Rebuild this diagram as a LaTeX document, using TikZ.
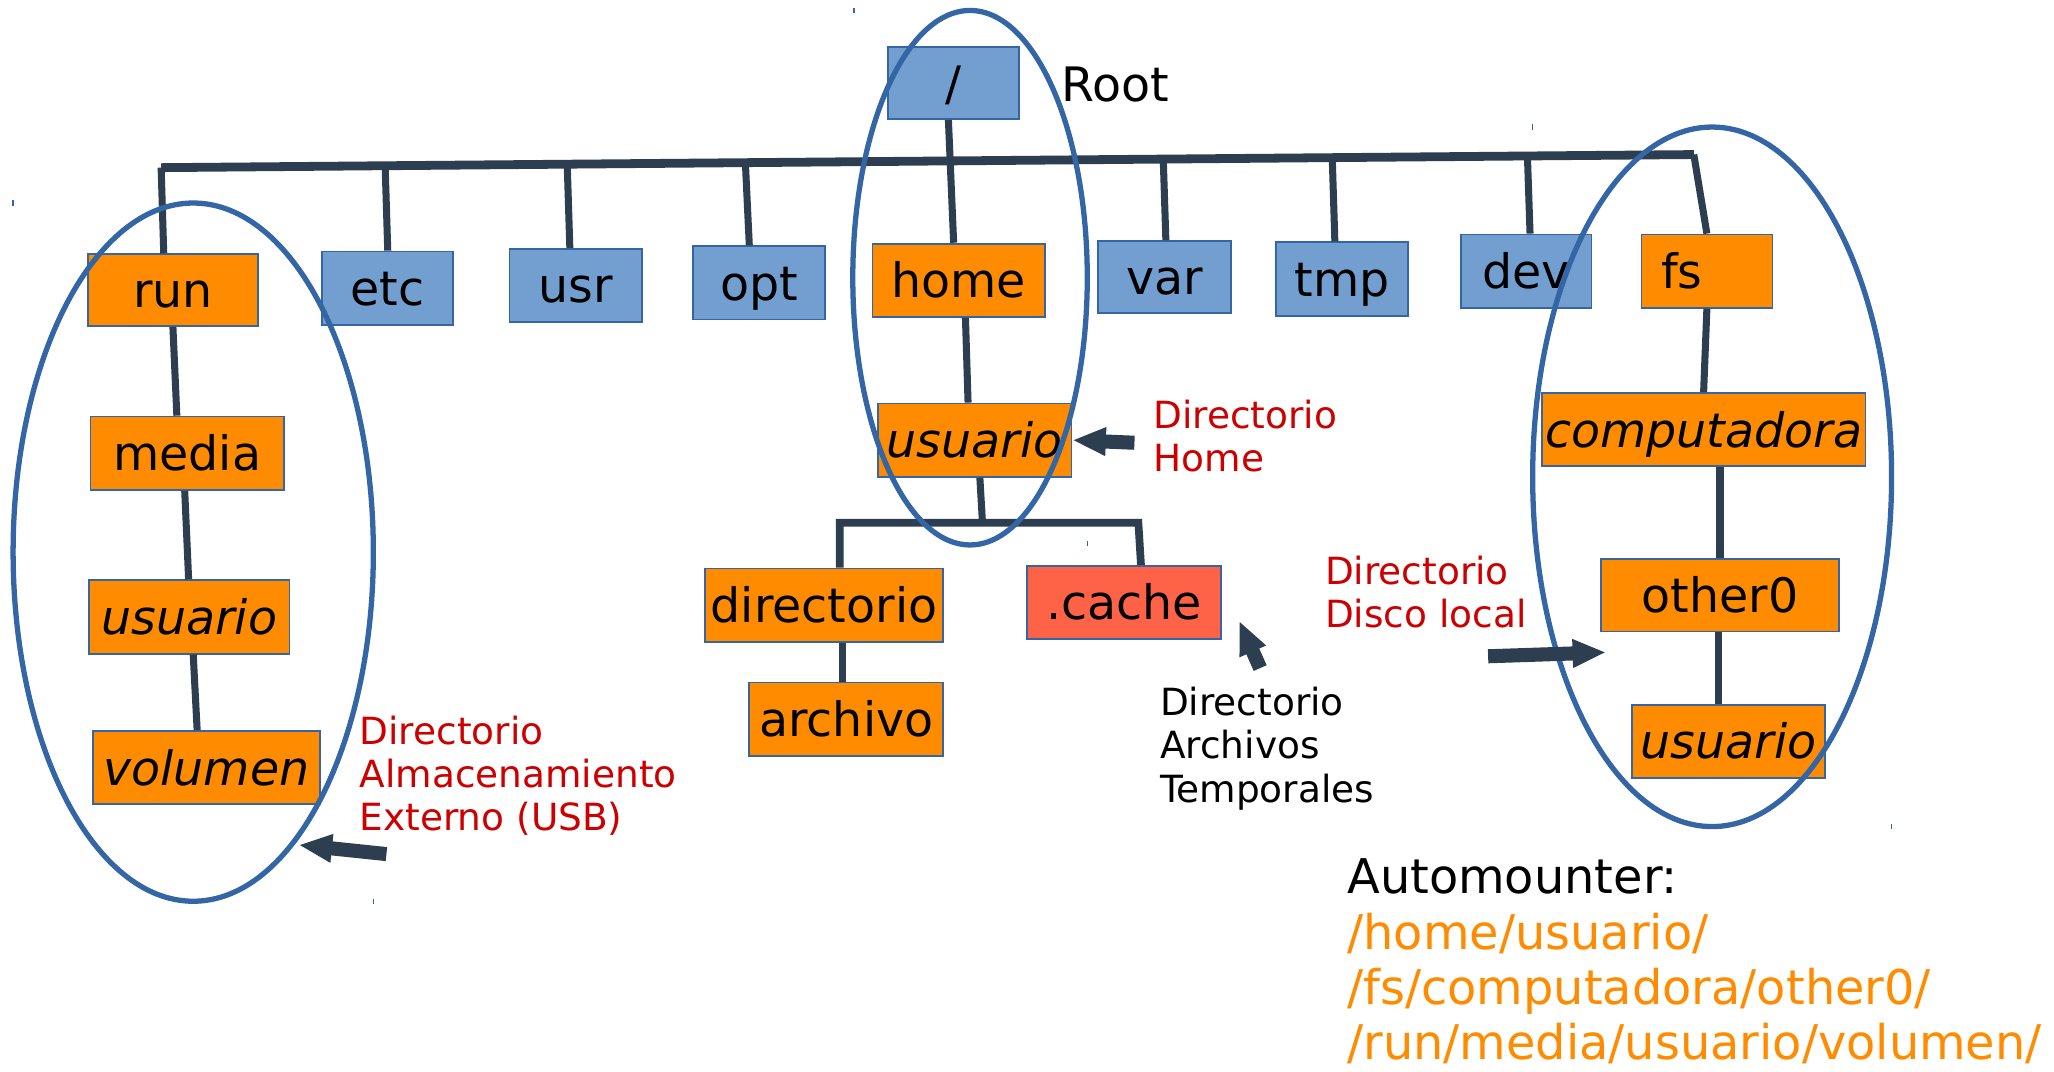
\documentclass[tikz,border=0pt]{standalone}
\usepackage{fontspec}
\setmainfont{DejaVu Sans}
\usetikzlibrary{arrows.meta}
\newlength\pxu
\setlength\pxu{0.013099cm}
\definecolor{boxblue}{HTML}{729FCF}
\definecolor{edgeblue}{HTML}{3465A4}
\definecolor{boxorange}{HTML}{FF8C00}
\definecolor{boxred}{HTML}{FF6347}
\definecolor{linedark}{HTML}{2C3E50}
\definecolor{labelred}{HTML}{CC0000}
\definecolor{textorange}{HTML}{FF8C00}
\tikzset{
  dirbox/.style={draw=edgeblue, line width=0.5pt, inner sep=0pt, minimum height=56\pxu,
    font=\fontsize{13.5}{16}\selectfont, text height=9.9pt, text depth=0pt},
  bluebox/.style={dirbox, fill=boxblue},
  orangebox/.style={dirbox, fill=boxorange},
  redbox/.style={dirbox, fill=boxred},
  tline/.style={draw=linedark, line width=2pt},
  tbar/.style={draw=linedark, line width=2.5pt},
  ring/.style={draw=edgeblue, line width=1.5pt},
  tick/.style={draw=edgeblue, line width=0.4pt},
  barrow/.style={draw=linedark, line width=4pt, -{Triangle[length=9.5pt,width=7.5pt]}},
  lbl/.style={anchor=north west, align=left, inner sep=0pt, font=\fontsize{10.65}{12.3}\selectfont},
  redlbl/.style={lbl, text=labelred},
}
\begin{document}
\begin{tikzpicture}[x=0.013099cm, y=-0.013099cm]
\fill[white] (0,0) rectangle (1568,818);
\useasboundingbox (0,0) rectangle (1568,818);

% top level
\node[bluebox, minimum width=100\pxu, minimum height=55\pxu] (root) at (728,63.5) {/};
\node[anchor=west, inner sep=0pt, font=\fontsize{13.5}{16}\selectfont, text height=9.9pt, text depth=0pt] (rootlbl) at (810,64) {Root};

\node[orangebox, minimum width=130\pxu, minimum height=55\pxu] (run) at (132,221.5) {run};
\node[bluebox, minimum width=100\pxu] (etc) at (296,220) {etc};
\node[bluebox, minimum width=101\pxu] (usr) at (439.5,218) {usr};
\node[bluebox, minimum width=101\pxu] (opt) at (579.5,216) {opt};
\node[orangebox, minimum width=132\pxu] (home) at (732,214) {home};
\node[bluebox, minimum width=102\pxu, minimum height=55\pxu] (var) at (889,211.5) {var};
\node[bluebox, minimum width=101\pxu] (tmp) at (1024.5,213) {tmp};
\node[bluebox, minimum width=100\pxu] (dev) at (1165,207) {dev};
\node[orangebox, minimum width=100\pxu] (fs) at (1303,207) {\makebox[70\pxu][l]{fs}};

% left column
\node[orangebox, minimum width=148\pxu] (media) at (143,346) {media};
\node[orangebox, minimum width=153\pxu] (usuL) at (144.5,471) {\itshape usuario};
\node[orangebox, minimum width=173\pxu] (vol) at (157.5,586) {\itshape volumen};

% middle column
\node[orangebox, minimum width=148\pxu] (usuM) at (744,336) {\itshape usuario};
\node[orangebox, minimum width=182\pxu] (dir) at (629,462) {directorio};
\node[orangebox, minimum width=148\pxu] (arch) at (646,549) {archivo};
\node[redbox, minimum width=148\pxu] (cache) at (858,460) {.cache};

% right column
\node[orangebox, minimum width=247\pxu] (comp) at (1300.5,328) {\itshape computadora};
\node[orangebox, minimum width=182\pxu, minimum height=55\pxu] (oth) at (1313,454.5) {other0};
\node[orangebox, minimum width=147\pxu] (usuR) at (1319.5,566) {\itshape usuario};

% main bar
\coordinate (barL) at (123,128);
\coordinate (barR) at (1293,118);
\coordinate (b-etc) at (294,126.5);
\coordinate (b-usr) at (433,125.4);
\coordinate (b-opt) at (569,124.2);
\coordinate (b-var) at (888,121.5);
\coordinate (b-tmp) at (1017,120.4);
\coordinate (b-dev) at (1166,119.1);
\draw[tbar] (barL) -- (barR);
\draw[tline] (barL) -- ([xshift=-7\pxu]run.north);
\draw[tline] (b-etc) -- ([xshift=2\pxu]b-etc |- etc.north);
\draw[tline] (b-usr) -- ([xshift=2\pxu]b-usr |- usr.north);
\draw[tline] (b-opt) -- ([xshift=3\pxu]b-opt |- opt.north);
\draw[tline] (b-var) -- ([xshift=2\pxu]b-var |- var.north);
\draw[tline] (b-tmp) -- ([xshift=2\pxu]b-tmp |- tmp.north);
\draw[tline] (b-dev) -- ([xshift=2\pxu]b-dev |- dev.north);
\draw[tline] (barR) -- (fs.north);
\draw[tline] ([xshift=-4\pxu]root.south) -- ([xshift=-4\pxu]home.north);

% left chain
\draw[tline] (run.south) -- ([xshift=3\pxu]run.south |- media.north);
\draw[tline] ([xshift=-2\pxu]media.south) -- ([xshift=1\pxu]media.south |- usuL.north);
\draw[tline] ([xshift=3\pxu]usuL.south) -- ([xshift=6\pxu]usuL.south |- vol.north);

% middle chain
\coordinate (lb1) at (641,399);
\coordinate (lb2) at (869,399);
\draw[tline] ([xshift=5\pxu]home.south) -- ([xshift=-5\pxu]usuM.north);
\draw[tline] ([xshift=4\pxu]usuM.south) -- ([xshift=6\pxu]usuM.south |- lb1);
\draw[tline, line width=2.2pt] (dir.north -| lb1) -- (lb1) -- (lb2) -- ([xshift=2\pxu]cache.north -| lb2);
\draw[tline] ([xshift=-3\pxu]arch.north) -- ([xshift=-3\pxu]arch.north |- dir.south);

% right chain
\draw[tline] (fs.south) -- (comp.north);
\draw[tline] (oth.north |- comp.south) -- (oth.north);
\draw[tline] ([xshift=-1\pxu]oth.south) -- ([xshift=-1\pxu]oth.south |- usuR.north);

% ellipses
\draw[ring] (147.5,421.5) ellipse [x radius=137.5\pxu, y radius=266.5\pxu];
\draw[ring] (740.5,212) ellipse [x radius=89.5\pxu, y radius=204\pxu];
\draw[ring] (1307,364) ellipse [x radius=137\pxu, y radius=267\pxu];

% small marks
\draw[tick] (652,6) -- (652,10);
\draw[tick] (1170,95) -- (1170,99);
\draw[tick] (10,153) -- (10,157);
\draw[tick] (830,413) -- (830,417);
\draw[tick] (285,686) -- (285,690);
\draw[tick] (1444,629) -- (1444,633);

% labels
\node[redlbl] (lhome) at (880,305) {Directorio\\Home};
\node[redlbl] (lusb) at (274,546) {Directorio\\Almacenamiento\\Externo (USB)};
\node[lbl] (ltmp) at (885,524) {Directorio\\Archivos\\Temporales};
\node[redlbl] (ldisk) at (1011,424) {Directorio\\Disco local};
\node[anchor=north west, align=left, inner sep=0pt, font=\fontsize{13.6}{15.7}\selectfont] (auto) at (1028,655.3)
  {Automounter:\\\textcolor{textorange}{/home/usuario/}\\\textcolor{textorange}{/fs/computadora/other0/}\\\textcolor{textorange}{/run/media/usuario/volumen/}};

% arrows
\coordinate (ahomeT) at (866,338);
\coordinate (ausbT) at (295,652);
\coordinate (ausbH) at (228,645);
\coordinate (atmpT) at (962,510);
\coordinate (atmpH) at (946,474);
\coordinate (adiskT) at (1136,501);
\coordinate (adiskH) at (1226,498);
\draw[barrow] (ahomeT) -- (usuM.east);
\draw[barrow] (ausbT) -- (ausbH);
\draw[barrow] (atmpT) -- (atmpH);
\draw[barrow] (adiskT) -- (adiskH);
\end{tikzpicture}
\end{document}
